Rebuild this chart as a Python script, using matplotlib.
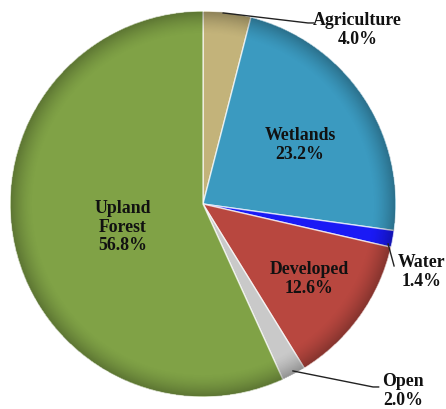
import matplotlib
matplotlib.use("Agg")
import matplotlib.pyplot as plt
import numpy as np

categories = ["Agriculture", "Wetlands", "Water", "Developed", "Open", "Upland\nForest"]
shares = [4.0, 23.2, 1.4, 12.6, 2.0, 56.8]
colors = ["#C3B37A", "#3B9AC0", "#1A1AF5", "#B8473F", "#C9C9C9", "#80A246"]

# label anchor positions (pie radius units)
label_pos = [(0.80, 0.907), (0.503, 0.311), (1.135, -0.347), (0.549, -0.383),
             (1.035, -0.964), (-0.415, -0.114)]
leaders = {
    0: [(0.104, 0.99), (0.544, 0.938), (0.575, 0.938)],
    2: [(0.959, -0.207), (0.99, -0.321)],
    4: [(0.466, -0.865), (0.881, -0.948), (0.91, -0.948)],
}

fig = plt.figure(figsize=(4.46, 4.10), dpi=100)
ax = fig.add_axes([10/446, 12/410, 386/446, 386/410])
wedges, _ = ax.pie(shares, colors=colors, startangle=90, counterclock=False,
                   radius=1.0,
                   wedgeprops=dict(edgecolor=(1, 1, 1, 0.7), linewidth=1.0))

# bevel shading: dark radial overlay near rim
n = 400
xs = np.linspace(-1, 1, n)
X, Y = np.meshgrid(xs, xs)
R = np.sqrt(X**2 + Y**2)
alpha = np.clip((R - 0.88) / 0.12, 0, 1) ** 1.5 * 0.28
alpha[R > 1] = 0
rgba = np.zeros((n, n, 4))
rgba[..., 3] = alpha
ax.imshow(rgba, extent=(-1, 1, -1, 1), origin="lower", zorder=3, interpolation="bilinear")

font = dict(family=["Liberation Serif", "DejaVu Serif"], fontweight="bold", fontsize=12.8,
            color="#111111", ha="center", va="center", linespacing=1.12)
for i, (cat, v) in enumerate(zip(categories, shares)):
    x, y = label_pos[i]
    ax.text(x, y, f"{cat}\n{v:.1f}%", zorder=5, **font)

for i, pts in leaders.items():
    px, py = zip(*pts)
    ax.plot(px, py, color="#222222", lw=1.0, zorder=4, clip_on=False)

ax.set_xlim(-1, 1)
ax.set_ylim(-1, 1)
ax.set_aspect("equal")
ax.axis("off")
fig.savefig("out.png", dpi=100)
